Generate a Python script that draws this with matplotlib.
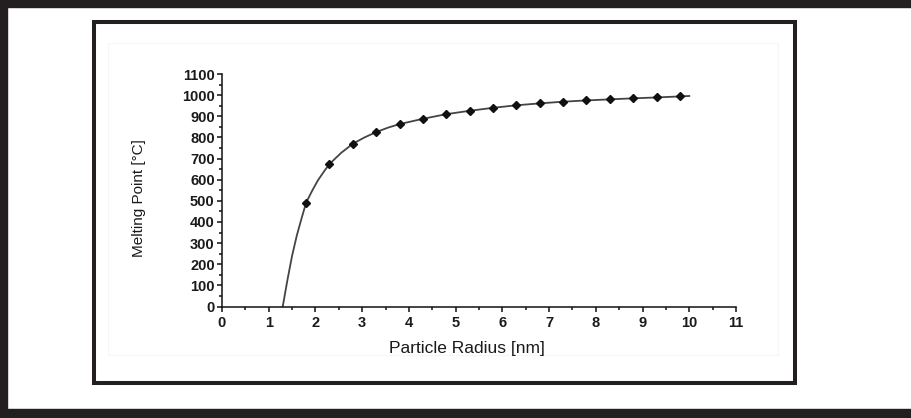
import matplotlib.pyplot as plt
from matplotlib.patches import Rectangle
from matplotlib.ticker import MultipleLocator

# values
radius = [1.8, 2.3, 2.8, 3.3, 3.8, 4.3, 4.8, 5.3, 5.8, 6.3, 6.8, 7.3, 7.8, 8.3, 8.8, 9.3, 9.8]
melt = [491, 674, 770, 825, 863, 888, 910, 926, 940, 952, 961, 969, 975, 980, 985, 989, 994]

# the drawn curve (traced), incl. the part below the first marker
curve_x = [1.3, 1.4, 1.5, 1.6, 1.7, 1.8, 1.93, 2.05, 2.18, 2.3, 2.55, 2.8, 3.05, 3.3, 3.55, 3.8,
           4.3, 4.8, 5.3, 5.8, 6.3, 6.8, 7.3, 7.8, 8.3, 8.8, 9.3, 9.8, 10.0]
curve_y = [0, 125, 240, 335, 415, 491, 548, 596, 638, 674, 727, 770, 800, 825, 846, 863,
           888, 910, 926, 940, 952, 961, 969, 975, 980, 985, 989, 994, 996]

W, H = 911, 418
fig = plt.figure(figsize=(W / 100, H / 100), dpi=100)
fig.patch.set_facecolor('white')

def fx(px):
    return px / W

def fy(py):
    return 1 - py / H

dark = '#231f20'
# outer frame bands
fig.patches.append(Rectangle((0, fy(7)), 1, 7 / H, transform=fig.transFigure, color=dark, zorder=0))
fig.patches.append(Rectangle((0, 0), 7 / W, 1, transform=fig.transFigure, color=dark, zorder=0))
fig.patches.append(Rectangle((0, 0), 1, 9 / H, transform=fig.transFigure, color=dark, zorder=0))
# inner black box
fig.patches.append(Rectangle((fx(94), fy(383)), fx(795) - fx(94), fy(22) - fy(383),
                             transform=fig.transFigure, fill=False, ec=dark, lw=2.9, zorder=0))
# faint box of the original chart
fig.patches.append(Rectangle((fx(108), fy(355)), fx(778) - fx(108), fy(43) - fy(355),
                             transform=fig.transFigure, fill=False, ec='#f6f6f6', lw=0.8, zorder=0))

ax = fig.add_axes([fx(222), fy(306.5), fx(736) - fx(222), fy(74) - fy(306.5)])
ax.set_facecolor('none')

ax.plot(curve_x, curve_y, color='#444444', lw=1.3, clip_on=False)
ax.plot(radius, melt, ls='none', marker='D', ms=4.5, color='#111111', clip_on=False)

ax.set_xlim(0, 11)
ax.set_ylim(0, 1100)
ax.xaxis.set_major_locator(MultipleLocator(1))
ax.xaxis.set_minor_locator(MultipleLocator(0.5))
ax.yaxis.set_major_locator(MultipleLocator(100))
ax.yaxis.set_minor_locator(MultipleLocator(50))

for s in ['top', 'right']:
    ax.spines[s].set_visible(False)
for s in ['left', 'bottom']:
    ax.spines[s].set_linewidth(1.1)
    ax.spines[s].set_color('#111111')

ax.tick_params(which='major', length=3.8, width=1.1, color='#111111')
ax.tick_params(which='minor', length=2.2, width=1.1, color='#111111')
ax.tick_params(axis='y', which='major', pad=1.5)
ax.tick_params(axis='x', which='major', pad=3)
for lab in ax.get_xticklabels() + ax.get_yticklabels():
    lab.set_family('Liberation Sans')
    lab.set_fontweight('bold')
    lab.set_fontsize(10.5)
    lab.set_color('#1a1a1a')

fig.text(fx(467), fy(348), 'Particle Radius [nm]', ha='center', va='center',
         fontsize=12.5, family='Liberation Sans', color='#1a1a1a')
fig.text(fx(139), fy(198), 'Melting Point [°C]', ha='center', va='center', rotation=90,
         fontsize=11, family='Liberation Sans', color='#1a1a1a')

fig.savefig('out.png', dpi=100)
